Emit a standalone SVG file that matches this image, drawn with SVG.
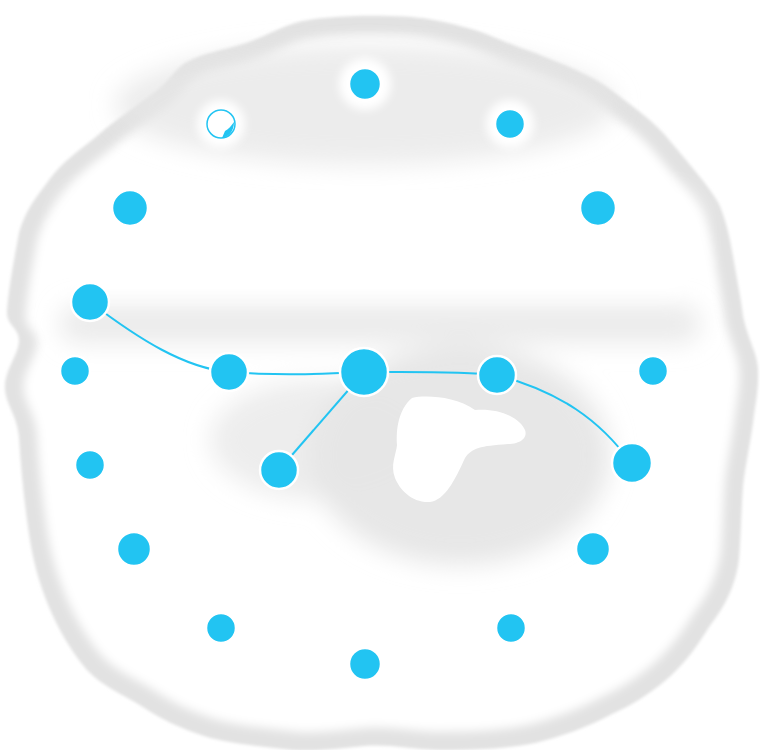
<svg xmlns="http://www.w3.org/2000/svg" width="760" height="750" viewBox="0 0 760 750">
<style>
.n{fill:#22c4f2;stroke:#ffffff;stroke-width:2.5}
.e{fill:none;stroke:#22c4f2;stroke-width:2}
</style>
<defs>
<filter id="b8" x="-20%" y="-20%" width="140%" height="140%"><feGaussianBlur stdDeviation="5"/></filter>
<filter id="b3" x="-20%" y="-20%" width="140%" height="140%"><feGaussianBlur stdDeviation="1.5"/></filter>
<filter id="b14" x="-30%" y="-30%" width="160%" height="160%"><feGaussianBlur stdDeviation="12"/></filter>
<filter id="b5" x="-50%" y="-50%" width="200%" height="200%"><feGaussianBlur stdDeviation="5"/></filter>
<path id="blob" d="M292,24 C320,14 400,14 428,19 C455,24 470,28 486,34 C505,42 520,48 535,53 C565,65 590,75 607,87 C635,108 655,122 670,141 C690,165 708,185 719,204 C728,225 731,245 734,262 C738,285 741,300 743,316 C748,340 757,352 758,369 C759,390 755,405 753,423 C749,450 745,468 743,486 C741,515 741,535 739,559 C735,590 722,610 709,627 C695,650 682,666 666,680 C648,695 630,706 612,714 C588,727 560,737 535,743 C500,750 465,750 437,750 C410,749 390,744 364,746 C340,748 315,752 292,750 C260,746 230,744 204,736 C180,728 163,720 146,709 C125,695 104,688 87,670 C70,650 58,628 49,607 C38,580 33,560 29,534 C24,500 21,470 19,437 C17,415 6,405 5,389 C4,370 19,355 19,340 C19,328 6,325 7,311 C9,285 15,255 19,233 C25,210 38,195 49,180 C62,162 80,150 97,136 C115,120 138,105 155,92 C168,82 175,70 185,63 C205,52 225,50 243,44 C262,38 275,30 292,24 Z"/>
</defs>
<rect width="760" height="750" fill="#ffffff"/>
<g id="background">
<use href="#blob" fill="#e2e2e2" filter="url(#b3)"/>
<use href="#blob" fill="#ffffff" filter="url(#b8)" transform="translate(380 385) scale(0.95) translate(-380 -385)"/>
<g fill="#e6e6e6" filter="url(#b14)">
<ellipse cx="365" cy="105" rx="250" ry="60" opacity="0.75"/>
<rect x="60" y="305" width="640" height="38" rx="18" opacity="0.8"/>
<ellipse cx="460" cy="455" rx="150" ry="110" opacity="0.95"/>
<ellipse cx="320" cy="440" rx="110" ry="60" opacity="0.7"/>
</g>
<g fill="#ffffff" filter="url(#b14)">
<rect x="60" y="190" width="640" height="100" rx="30"/>
</g>
<g fill="#ffffff" filter="url(#b5)">
<circle cx="365" cy="84" r="26"/>
<circle cx="221" cy="124" r="24"/>
<circle cx="510" cy="124" r="24"/>
</g>
<path d="M412,398 C425,395 455,396 475,410 C500,408 520,418 525,430 C528,438 520,444 508,444 C480,446 472,448 465,458 C455,480 445,500 430,502 C412,503 400,490 395,478 C390,465 396,455 397,445 C396,430 398,410 412,398 Z" fill="#ffffff"/>
</g>
<g id="connectors">
<path class="e" d="M90,302 C140,340 185,368 229,372"/>
<path class="e" d="M229,372 C280,376 320,374 364,372"/>
<path class="e" d="M364,372 C410,372 460,371 497,375"/>
<path class="e" d="M497,375 C560,392 600,420 631,463"/>
<path class="e" d="M364,372 L279,470"/>
</g>
<g id="n1"><circle class="n" cx="365" cy="84" r="16"/></g>
<g id="n2"><circle cx="221" cy="124" r="14" fill="#ffffff" stroke="#22c4f2" stroke-width="1.5"/><path d="M234,122 C234,132 228,137 222,138 L225,131 C229,129 231,126 234,122 Z" fill="#22c4f2"/></g>
<g id="n3"><circle class="n" cx="510" cy="124" r="15"/></g>
<g id="n4"><circle class="n" cx="130" cy="208" r="18"/></g>
<g id="n5"><circle class="n" cx="598" cy="208" r="18"/></g>
<g id="n6"><circle class="n" cx="90" cy="302" r="19"/></g>
<g id="n7"><circle class="n" cx="75" cy="371" r="15"/></g>
<g id="n8"><circle class="n" cx="229" cy="372" r="19"/></g>
<g id="n9"><circle class="n" cx="364" cy="372" r="24"/></g>
<g id="n10"><circle class="n" cx="497" cy="375" r="19"/></g>
<g id="n11"><circle class="n" cx="653" cy="371" r="15"/></g>
<g id="n12"><circle class="n" cx="90" cy="465" r="15"/></g>
<g id="n13"><circle class="n" cx="279" cy="470" r="19"/></g>
<g id="n14"><circle class="n" cx="632" cy="463" r="20"/></g>
<g id="n15"><circle class="n" cx="134" cy="549" r="17"/></g>
<g id="n16"><circle class="n" cx="593" cy="549" r="17"/></g>
<g id="n17"><circle class="n" cx="221" cy="628" r="15"/></g>
<g id="n18"><circle class="n" cx="511" cy="628" r="15"/></g>
<g id="n19"><circle class="n" cx="365" cy="664" r="16"/></g>
</svg>
